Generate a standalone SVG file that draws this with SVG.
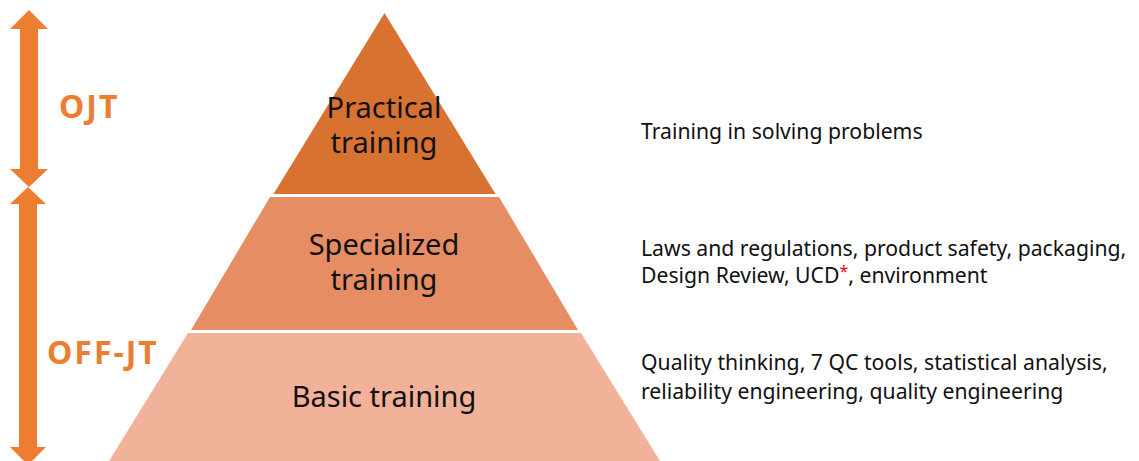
<svg xmlns="http://www.w3.org/2000/svg" width="1139" height="461" viewBox="0 0 1139 461">
<style>
.lbl{font-family:"Noto Sans","Liberation Sans",sans-serif;font-size:29px;fill:#111;text-anchor:middle}
.desc{font-family:"Noto Sans","Liberation Sans",sans-serif;font-size:21.2px;fill:#111}
.side{font-family:"Noto Sans","Liberation Sans",sans-serif;font-size:32px;font-weight:bold;fill:#ED7D31;letter-spacing:2px}
.arrow{fill:#ED7D31}
</style>
<rect width="1139" height="461" fill="#fff"/>
<g id="connectors">
  <polygon class="arrow" points="29,10 48,29 38,29 38,169 48,169 29,187 10,169 20,169 20,29 10,29"/>
  <polygon class="arrow" points="28,187 46,204 37,204 37,447 46,447 28,465 10,447 19,447 19,204 10,204"/>
</g>
<g id="ojt"><text class="side" x="59" y="118">OJT</text></g>
<g id="offjt"><text class="side" x="47" y="364">OFF-JT</text></g>
<g id="practical">
  <polygon points="384.5,13 495.5,194 273.5,194" fill="#D87230"/>
  <text class="lbl" x="384" y="118">Practical</text>
  <text class="lbl" x="384" y="153">training</text>
</g>
<g id="specialized">
  <polygon points="270,197 499,197 578,330 191,330" fill="#E68D63"/>
  <text class="lbl" x="384" y="255">Specialized</text>
  <text class="lbl" x="384" y="290">training</text>
</g>
<g id="basic">
  <polygon points="188,333 581,333 660,461 109,461" fill="#F2B29A"/>
  <text class="lbl" x="384" y="407">Basic training</text>
</g>
<g id="desc-practical"><text class="desc" x="641" y="139">Training in solving problems</text></g>
<g id="desc-specialized">
  <text class="desc" x="641" y="256">Laws and regulations, product safety, packaging,</text>
  <text class="desc" x="641" y="283">Design Review, UCD<tspan fill="#E00" font-size="16" dy="-6">*</tspan><tspan dy="6">, environment</tspan></text>
</g>
<g id="desc-basic">
  <text class="desc" x="641" y="370">Quality thinking, 7 QC tools, statistical analysis,</text>
  <text class="desc" x="641" y="399">reliability engineering, quality engineering</text>
</g>
</svg>
